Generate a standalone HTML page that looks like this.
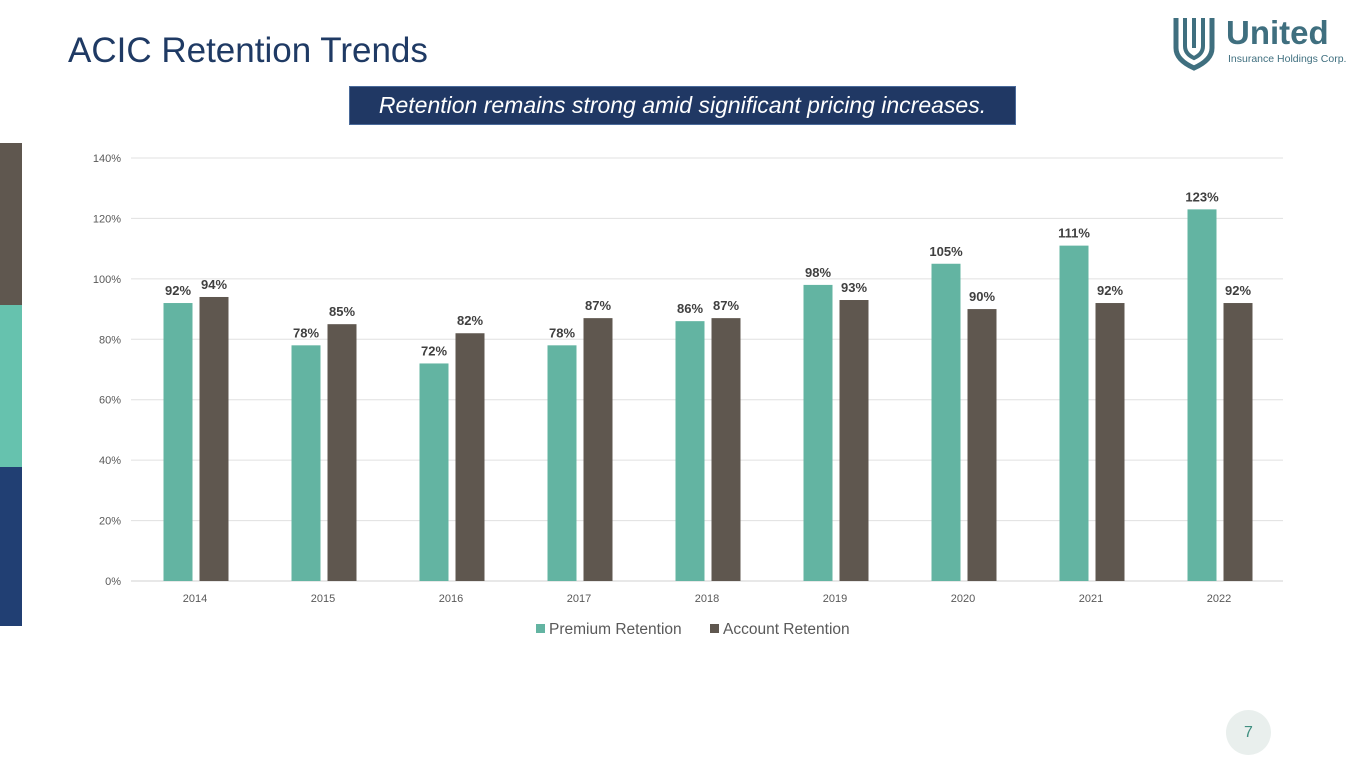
<!DOCTYPE html>
<html><head><meta charset="utf-8"><style>
body{margin:0;width:1365px;height:768px;background:#fff;position:relative;overflow:hidden;font-family:"Liberation Sans",sans-serif}
.abs{position:absolute}
</style></head><body>
<div class="abs" style="left:68px;top:31px;font-size:35px;color:#1f3a64;">ACIC Retention Trends</div>
<div class="abs" style="left:1172px;top:14px;width:185px;height:58px;">
<svg width="185" height="58"><path d="M4 4 L4 34 Q4 46 22 54 Q40 46 40 34 L40 4" fill="none" stroke="#3f6f7f" stroke-width="5"/><path d="M13 4 L13 32 Q13 40 22 44 Q31 40 31 32 L31 4" fill="none" stroke="#3f6f7f" stroke-width="4"/><line x1="22" y1="4" x2="22" y2="34" stroke="#3f6f7f" stroke-width="4"/></svg>
<div class="abs" style="left:54px;top:0px;font-size:33px;font-weight:bold;color:#3f6f7f;">United</div>
<div class="abs" style="left:56px;top:39px;font-size:10.5px;color:#3f6f7f;white-space:nowrap">Insurance Holdings Corp.</div>
</div>
<div class="abs" style="left:349px;top:86px;width:665px;height:37px;background:#203864;border:1px solid #4a6a9a;color:#fff;font-style:italic;font-size:23px;text-align:center;line-height:37px;white-space:nowrap">Retention remains strong amid significant pricing increases.</div>
<div class="abs" style="left:0;top:143px;width:22px;height:162px;background:#5f574f"></div>
<div class="abs" style="left:0;top:305px;width:22px;height:162px;background:#66c2ae"></div>
<div class="abs" style="left:0;top:467px;width:22px;height:159px;background:#213f73"></div>
<svg class="abs" style="left:0;top:0" width="1365" height="768" id="chart"></svg>
<div class="abs" style="left:1226px;top:710px;width:45px;height:45px;border-radius:50%;background:#e9efed;color:#3f8f80;font-size:16px;text-align:center;line-height:45px;">7</div>
<script>
const categories=["2014","2015","2016","2017","2018","2019","2020","2021","2022"];
const premium=[92,78,72,78,86,98,105,111,123];
const account=[94,85,82,87,87,93,90,92,92];
const ticks=[0,20,40,60,80,100,120,140];
const NS="http://www.w3.org/2000/svg";
const svg=document.getElementById("chart");
const L=131,R=1283,T=158,B=581,max=140;
const y=v=>B-(v/max)*(B-T);
const bw=(R-L)/categories.length;
const cx=i=>L+bw*(i+0.5);
function mk(tag,at,parent){const e=document.createElementNS(NS,tag);for(const k in at)e.setAttribute(k,at[k]);(parent||svg).appendChild(e);return e;}
ticks.forEach(t=>{
 const g=mk("line",{x1:L,x2:R,y1:y(t),y2:y(t),stroke:t===0?"#d0d0d0":"#e0e0e0","stroke-width":1});
 
 
 const tx=mk("text",{x:121,y:y(t)+4,"text-anchor":"end","font-size":11,fill:"#595959","font-family":"Liberation Sans, sans-serif"});
 tx.textContent=t+"%";
 
 
});
categories.forEach((c,i)=>{
 const xl=mk("text",{x:cx(i),y:602,"text-anchor":"middle","font-size":11,fill:"#595959","font-family":"Liberation Sans, sans-serif"});
 xl.textContent=c;
 
 
 [[premium[i],-31.5,"#63b4a2"],[account[i],4.5,"#5f574f"]].forEach(([v,off,col],k)=>{
  const r=mk("rect",{x:cx(i)+off,y:y(v),width:29,height:B-y(v),fill:col});
  
  
  const lb=mk("text",{x:cx(i)+off+14.5,y:y(v)-8,"text-anchor":"middle","font-size":13,"font-weight":"bold",fill:"#404040","font-family":"Liberation Sans, sans-serif"});
  lb.textContent=v+"%";
  
  
 });
});
const legend=[["Premium Retention","#63b4a2",536],["Account Retention","#5f574f",710]];
legend.forEach(([n,col,x])=>{
 const r=mk("rect",{x:x,y:624,width:9,height:9,fill:col});
 
 
 const t=mk("text",{x:x+13,y:634,"font-size":15.5,fill:"#595959","font-family":"Liberation Sans, sans-serif"});
 t.textContent=n;
 
 
});
</script>
</body></html>
